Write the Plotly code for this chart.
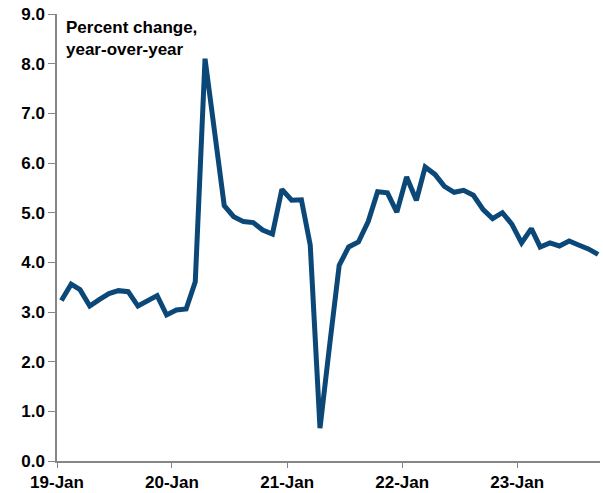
import plotly.graph_objects as go
import pandas as pd

months = pd.date_range("2019-01-01", "2023-09-01", freq="MS").strftime("%Y-%m").tolist()
values = [
    3.23, 3.56, 3.45, 3.12, 3.25, 3.37, 3.43, 3.41, 3.12, 3.23, 3.33, 2.94,  # 2019
    3.04, 3.06, 3.61, 8.10, 6.60, 5.14, 4.92, 4.82, 4.80, 4.65, 4.57, 5.47,  # 2020
    5.25, 5.26, 4.35, 0.66, 2.30, 3.94, 4.31, 4.41, 4.82, 5.42, 5.40, 5.01,  # 2021
    5.72, 5.25, 5.92, 5.77, 5.53, 5.41, 5.45, 5.35, 5.06, 4.88, 5.00, 4.77,  # 2022
    4.39, 4.68, 4.31, 4.39, 4.33, 4.43, 4.35, 4.27, 4.16,                    # 2023
]
title_text = "Percent change,<br>year-over-year"

x_dates = [m + "-15" for m in months]

FONT = "Liberation Sans, Arial, sans-serif"
LINE = "#0b4878"
AXIS = "#868686"

fig = go.Figure()
fig.add_trace(go.Scatter(
    x=x_dates, y=values, mode="lines",
    line=dict(color=LINE, width=5, shape="linear"),
    hoverinfo="skip", showlegend=False,
))

fig.update_layout(
    width=603, height=493,
    margin=dict(l=57, r=3, t=14, b=32),
    paper_bgcolor="white", plot_bgcolor="white",
    font=dict(family=FONT, size=17, color="black"),
    showlegend=False,
)
fig.update_xaxes(
    type="date", automargin=False,
    range=["2019-01-01", "2023-09-21"],
    tick0="2019-01-01", dtick="M12", tickformat="%y-%b",
    ticks="outside", ticklen=5, tickwidth=1, tickcolor=AXIS,
    showline=True, linecolor=AXIS, linewidth=1.5,
    showgrid=False, zeroline=False,
    tickfont=dict(family=FONT, size=17, color="black", weight="bold"),
)
fig.update_yaxes(
    range=[0, 9], dtick=1, tickformat=".1f", automargin=False,
    ticks="outside", ticklen=7, tickwidth=1, tickcolor=AXIS,
    showline=True, linecolor=AXIS, linewidth=1.5,
    showgrid=False, zeroline=False,
    tickfont=dict(family=FONT, size=17, color="black", weight="bold"),
)
fig.add_annotation(
    text=title_text, xref="paper", yref="paper",
    x=0.013, y=0.995, xanchor="left", yanchor="top", align="left",
    showarrow=False,
    font=dict(family=FONT, size=17, color="black", weight="bold"),
)

fig.write_html("out.html")
